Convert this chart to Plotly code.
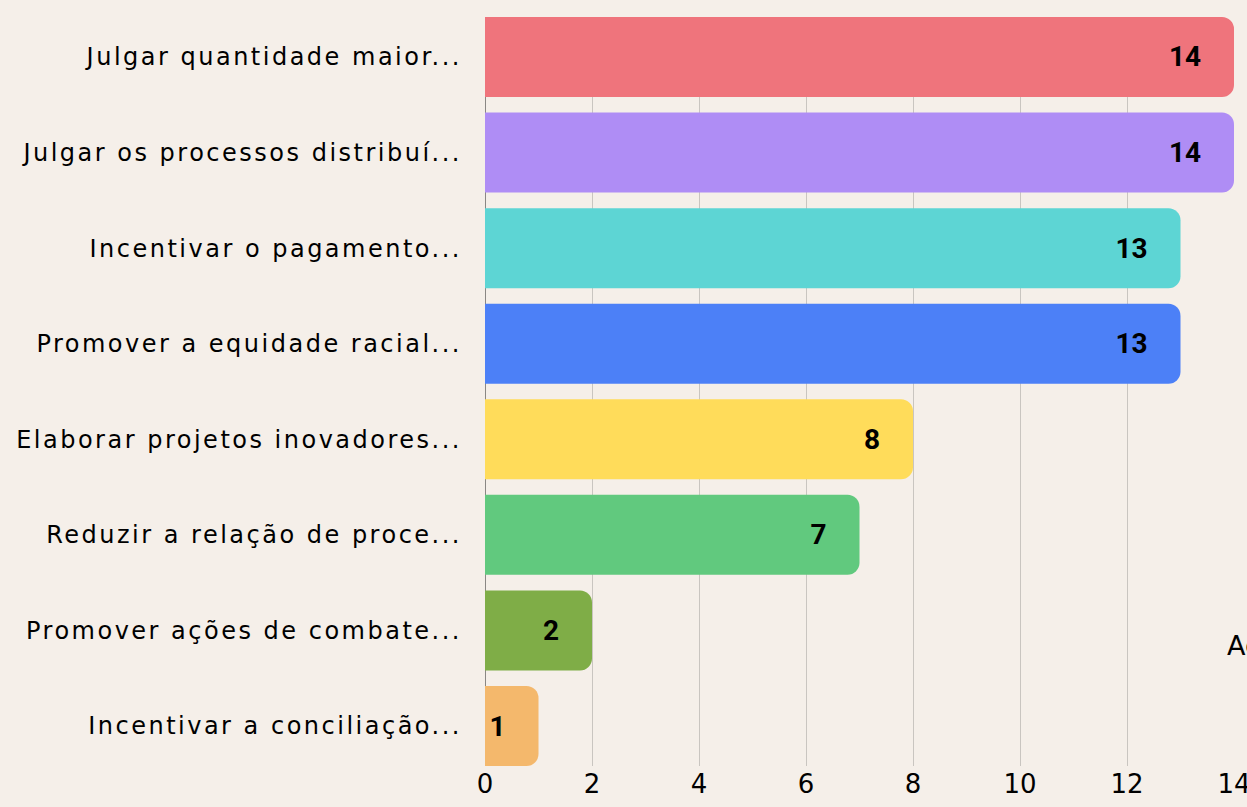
import plotly.graph_objects as go

categories = [
    "Julgar quantidade maior...",
    "Julgar os processos distribuí...",
    "Incentivar o pagamento...",
    "Promover a equidade racial...",
    "Elaborar projetos inovadores...",
    "Reduzir a relação de proce...",
    "Promover ações de combate...",
    "Incentivar a conciliação...",
]
values = [14, 14, 13, 13, 8, 7, 2, 1]
colors = ["#EF747C", "#AF8DF5", "#5DD5D4", "#4C80F7", "#FFDC5A", "#61C97E", "#7FAD47", "#F4B86C"]
x_ticks = [0, 2, 4, 6, 8, 10, 12, 14]
side_note = "Ac"

FONT = "DejaVu Sans"
BOLD_FONT = "Roboto"
BG = "#F5EFE9"

fig = go.Figure(
    go.Bar(
        y=categories,
        x=values,
        orientation="h",
        marker=dict(color=colors, line=dict(width=0)),
        text=[str(v) for v in values],
        texttemplate="%{text}   ",
        textposition="inside",
        insidetextanchor="end",
        constraintext="none",
        textfont=dict(family=BOLD_FONT, size=28, color="#000000", weight="bold"),
        width=0.837,
        hoverinfo="skip",
    )
)

fig.update_layout(
    width=1247,
    height=807,
    paper_bgcolor=BG,
    plot_bgcolor=BG,
    margin=dict(l=485, r=13, t=17, b=41, autoexpand=False),
    showlegend=False,
    barcornerradius=12,
    font=dict(family=FONT, color="#000000"),
    annotations=[
        dict(
            text=side_note,
            xref="paper",
            yref="paper",
            x=0.988,
            y=0.1615,
            xanchor="left",
            yanchor="middle",
            showarrow=False,
            font=dict(family=FONT, size=27, color="#000000"),
        )
    ],
)

fig.update_xaxes(
    range=[0, 14],
    tickvals=x_ticks,
    showgrid=True,
    gridcolor="#C9C5C0",
    gridwidth=1,
    zeroline=True,
    zerolinecolor="#8A8784",
    zerolinewidth=1,
    tickfont=dict(family=FONT, size=26, color="#000000"),
    ticklabeloverflow="allow",
    automargin=False,
    ticks="",
    fixedrange=True,
)
fig.update_yaxes(
    autorange=False,
    range=[7.4185, -0.4185],
    tickfont=dict(family=FONT, size=24, color="#000000"),
    ticklabelstandoff=22,
    automargin=False,
    showgrid=False,
    ticks="",
    fixedrange=True,
)

fig.write_html(
    "out.html",
    config={"displayModeBar": False},
    post_script=(
        "document.body.style.margin='0';document.body.style.overflow='hidden';"
        "document.querySelectorAll('.yaxislayer-above .ytick text').forEach("
        "function(e){e.style.letterSpacing='2.5px';});"
    ),
)
